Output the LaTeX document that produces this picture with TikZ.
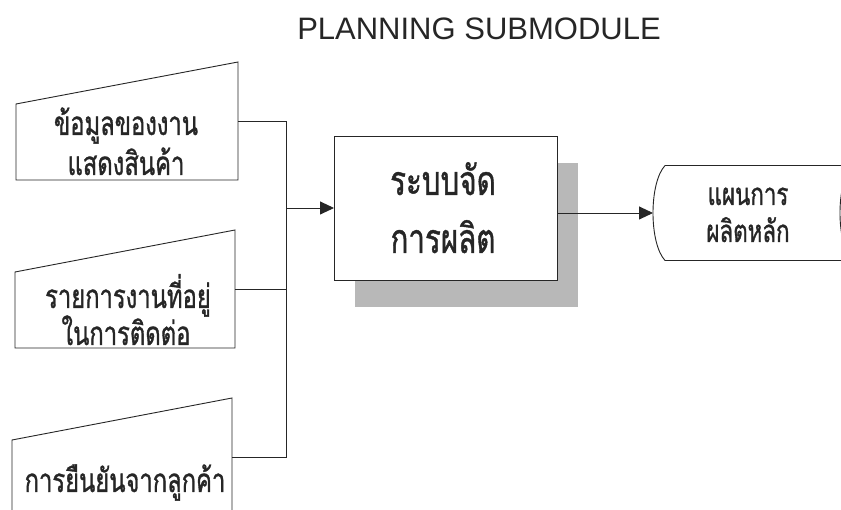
\documentclass[tikz,border=0pt]{standalone}
\usepackage{fontspec}
\setmainfont{Liberation Sans}
\newfontfamily\thaifont[Script=Thai, FakeStretch=0.72, FakeBold=1]{Loma}
\usetikzlibrary{arrows.meta,calc}
\begin{document}
\begin{tikzpicture}[x=1pt,y=-1pt,
  ln/.style={draw=black!85, line width=0.9pt},
  arr/.style={ln, -{Triangle[length=14pt,width=13pt]}},
  holder/.style={draw=none, inner sep=0pt, outer sep=0pt},
  intxt/.style={font=\thaifont\fontsize{33}{36}\selectfont, text=black!85, anchor=base, inner sep=0pt},
  maintxt/.style={font=\thaifont\fontsize{41}{44}\selectfont, text=black!85, anchor=base, inner sep=0pt},
  outtxt/.style={font=\thaifont\fontsize{31}{34}\selectfont, text=black!85, anchor=base, inner sep=0pt},
  shadowfill/.style={fill=black!28}
]
\useasboundingbox (0,0) rectangle (841,510);
\clip (0,0) rectangle (841,510);
\fill[white] (0,0) rectangle (841,510);

% title
\node[font=\fontsize{31}{34}\selectfont, text=black!85, anchor=base, inner sep=0pt] (title) at (479,40) {PLANNING SUBMODULE};

% input shapes (manual input)
\node[holder, minimum width=222pt, minimum height=118pt] (b1) at (127,121) {};
\node[holder, minimum width=220pt, minimum height=118pt] (b2) at (125,289) {};
\node[holder, minimum width=220pt, minimum height=118pt] (b3) at (122,457) {};
\foreach \b in {b1,b2,b3}{
  \draw[ln, fill=white] (\b.south west) -- (\b.south east) -- (\b.north east) -- ($(\b.north west)+(0,42)$) -- cycle;
}
\node[intxt] (t1a) at (126,135) {ข้อมูลของงาน};
\node[intxt] (t1b) at (126,175) {แสดงสินค้า};
\node[intxt] (t2a) at (128,308) {รายการงานที่อยู่};
\node[intxt] (t2b) at (126,345) {ในการติดต่อ};
\node[intxt] (t3a) at (125,492) {การยืนยันจากลูกค้า};

% main process box with shadow
\node[holder, minimum width=223pt, minimum height=144pt] (main) at (445.5,208) {};
\fill[shadowfill] ($(main.south west)+(21,27)$) rectangle ($(main.north east)+(21,27)$);
\draw[ln, fill=white] (main.south west) rectangle (main.north east);
\node[maintxt] (m1) at (443,195) {ระบบจัด};
\node[maintxt] (m2) at (443,253) {การผลิต};

% output (stored data)
\node[holder, minimum width=199pt, minimum height=95pt] (out) at (752.5,213) {};
\draw[ln, fill=white] ($(out.north west)+(12,0)$) -- (out.north east)
  .. controls ($(out.east)+(-16,-30)$) and ($(out.east)+(-16,30)$) .. (out.south east)
  -- ($(out.south west)+(12,0)$)
  .. controls ($(out.west)+(-4,30)$) and ($(out.west)+(-4,-30)$) .. ($(out.north west)+(12,0)$);
\node[outtxt] (o1) at (748,205) {แผนการ};
\node[outtxt] (o2) at (748,242) {ผลิตหลัก};

% connectors
\coordinate (j) at (286,208);
\draw[ln] (b1.east) -| (j);
\draw[ln] (b3.east) -| (j);
\draw[ln] (b2.east) -- (b2.east -| j);
\draw[arr] (j) -- (main.west);
\draw[arr] (out.west -| main.east) -- (out.west);
\end{tikzpicture}
\end{document}
